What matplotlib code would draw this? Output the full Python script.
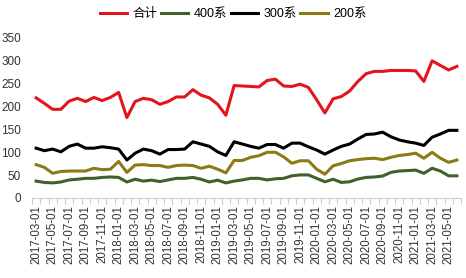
import matplotlib
matplotlib.use("Agg")
import matplotlib.pyplot as plt
import pandas as pd

months = pd.date_range("2017-03-01", "2021-06-01", freq="MS").strftime("%Y-%m-%d").tolist()

total = [219, 207, 194, 194, 212, 218, 211, 220, 213, 220, 231, 176,
         211, 218, 215, 205, 211, 221, 221, 237, 225, 219, 205, 181,
         246, 245, 244, 243, 257, 260, 245, 244, 249, 242, 215, 186,
         217, 222, 234, 255, 272, 277, 277, 279, 279, 279, 278, 255,
         300, 290, 280, 288]
s400 = [37, 34, 33, 35, 39.5, 41, 43, 43, 45, 46, 45, 35,
        41, 37, 39, 36, 39.5, 43, 43, 45, 41, 35, 39, 33,
        37, 39.5, 43, 43, 39.5, 42, 43, 48.5, 50.5, 50.5, 43, 35.5,
        41, 34, 35.5, 41.5, 45, 46, 48, 56, 59, 60, 61, 54,
        65, 59, 48.5, 48.5]
s300 = [109, 103.5, 107, 101, 113, 118, 109, 109, 112, 110, 107, 83,
        98, 107, 103.5, 96, 106, 106, 107, 123, 118, 113, 101, 93,
        123, 118, 113, 109, 117, 117, 109, 120, 120, 112, 105, 96,
        105, 113, 118, 129, 139, 140, 144, 134, 127, 123, 120, 115,
        133, 140, 148, 148]
s200 = [73, 67, 54, 58, 59, 59, 59, 65, 62, 63, 80, 56,
        72, 73, 71, 71, 67, 71, 72, 71, 65, 69.5, 63, 55,
        82, 82, 89, 92.5, 100, 100, 90, 76, 81.5, 81.5, 63, 52,
        70.5, 75.5, 81.5, 84, 86, 87, 84, 89, 93, 95, 98, 87,
        100, 87, 78, 83]

names = ["合计", "400系", "300系", "200系"]
colors = ["#E3141C", "#41602E", "#000000", "#8C7A14"]
series = [total, s400, s300, s200]

fam = ["Liberation Sans", "Noto Sans CJK SC"]
plt.rcParams["font.family"] = fam

fig = plt.figure(figsize=(4.66, 2.78), dpi=100)
ax = fig.add_axes([32/466, 1-198/278, (461-32)/466, (198-38)/278])

x = list(range(len(months)))
for vals, name, c in zip(series, names, colors):
    ax.plot(x, vals, color=c, lw=2.2, label=name, solid_joinstyle="round")

ax.set_xlim(-0.5, len(months) - 0.5)
ax.set_ylim(0, 350)
ax.set_yticks(range(0, 351, 50))
ax.set_xticks(x[::2])
ax.set_xticklabels(months[::2], rotation=90, fontsize=8.3, color="#333333")
ax.set_xticks([i - 0.5 for i in range(len(months) + 1)], minor=True)
ax.tick_params(axis="x", which="major", length=0, pad=5)
ax.tick_params(axis="x", which="minor", length=4, color="#CCCCCC", width=0.8)
ax.tick_params(axis="y", length=0, labelsize=8.5, labelcolor="#333333", pad=8)
for s in ["top", "right", "left"]:
    ax.spines[s].set_visible(False)
ax.spines["bottom"].set_color("#CCCCCC")
ax.spines["bottom"].set_linewidth(0.8)

fig.legend(loc="center", bbox_to_anchor=(0.5, 1 - 14/278), ncol=4, frameon=False,
           fontsize=9, handlelength=2.2, handletextpad=0.4, columnspacing=0.3,
           borderaxespad=0.0, borderpad=0.0)

fig.savefig("out.png", dpi=100)
